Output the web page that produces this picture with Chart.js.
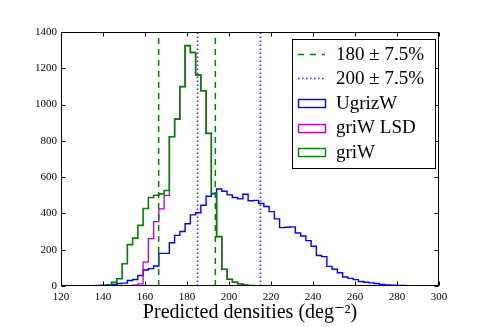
<!DOCTYPE html>
<html><head><meta charset="utf-8">
<script src="https://cdn.jsdelivr.net/npm/chart.js@4.4.0/dist/chart.umd.min.js"></script>
<style>html,body{margin:0;padding:0;background:#fff;}#wrap{width:491px;height:327px;}</style>
</head><body><div id="wrap"><canvas id="c" width="491" height="327"></canvas></div>
<script>
const binEdges = [131.6,134.1,136.6,139.1,141.6,144.1,146.6,149.1,151.6,154.1,156.6,159.1,161.6,164.1,166.6,169.1,171.6,174.1,176.6,179.1,181.6,184.1,186.6,189.1,191.6,194.1,196.6,199.1,201.6,204.1,206.6,209.1,211.6,214.1,216.6,219.1,221.6,224.1,226.6,229.1,231.6,234.1,236.6,239.1,241.6,244.1,246.6,249.1,251.6,254.1,256.6,259.1,261.6,264.1,266.6,269.1,271.6,274.1,276.6,279.1,281.6,284.1,286.6,289.1,291.6];
const countsUgrizW = [1,2,3,4,6,8,14,16,30,36,58,88,96,110,180,180,238,279,300,343,392,404,445,495,508,535,522,502,488,480,506,470,472,455,438,410,370,322,324,326,292,276,250,219,168,162,108,92,73,50,42,35,25,21,17,14,8,6,5,3,3,2,1,1];
const countsGriWLSD = [0,0,0,0,0,0,0,0,1,4,12,132,261,355,425,500,823,920,1099,1325,1287,1163,1076,841,510,272,92,37,21,12,5,2,1,0,0,0,0,0,0,0,0,0,0,0,0,0,0,0,0,0,0,0,0,0,0,0,0,0,0,0,0,0,0,0];
const countsGriW = [0,0,0,0,4,21,40,123,228,264,334,427,488,500,508,526,823,920,1099,1325,1287,1163,1076,841,510,272,92,37,21,12,5,2,1,0,0,0,0,0,0,0,0,0,0,0,0,0,0,0,0,0,0,0,0,0,0,0,0,0,0,0,0,0,0,0];
const xTicks = [120,140,160,180,200,220,240,260,280,300];
const yTicks = [0,200,400,600,800,1000,1200,1400];
const refLines180 = [166.5, 193.5];
const refLines200 = [185, 215];
const legendLabels = ['180 \u00b1 7.5%', '200 \u00b1 7.5%', 'UgrizW', 'griW LSD', 'griW'];

const BLUE = '#0000ff', GREEN = '#008000', MAG = '#bf00bf';
const SERIF = '"Liberation Serif", "DejaVu Serif", serif';

function stepPoints(counts) {
  const first = counts.findIndex(v => v > 0);
  let last = counts.length - 1;
  while (last >= 0 && counts[last] === 0) last--;
  const pts = [{x: binEdges[first], y: 0}];
  for (let i = first; i <= last; i++) pts.push({x: binEdges[i], y: counts[i]});
  pts.push({x: binEdges[last + 1], y: 0});
  return pts;
}
function vline(x) { return [{x: x, y: 0}, {x: x, y: 1400}]; }

const datasets = [];
refLines180.forEach(v => datasets.push({data: vline(v), borderColor: GREEN, borderWidth: 1.5, borderDash: [6, 5], pointRadius: 0}));
refLines200.forEach(v => datasets.push({data: vline(v), borderColor: '#2a2aff', borderWidth: 1.6, borderDash: [1.5, 2.5], pointRadius: 0}));
datasets.push({data: stepPoints(countsGriW), borderColor: GREEN, borderWidth: 1.6, stepped: true, pointRadius: 0});
datasets.push({data: stepPoints(countsGriWLSD), borderColor: MAG, borderWidth: 1.3, stepped: true, pointRadius: 0});
datasets.push({data: stepPoints(countsUgrizW), borderColor: BLUE, borderWidth: 1.4, stepped: true, pointRadius: 0});

const framePlugin = {
  id: 'frame',
  afterDatasetsDraw(chart) {
    const {ctx, chartArea: a, scales: {x, y}} = chart;
    ctx.save();
    ctx.strokeStyle = '#000';
    ctx.lineWidth = 1;
    const L = Math.round(a.left) + 0.5, R = Math.round(a.right) - 0.5;
    const T = Math.round(a.top) + 0.5, B = Math.round(a.bottom) - 0.5;
    ctx.beginPath();
    xTicks.forEach(v => {
      const px = Math.round(x.getPixelForValue(v)) + 0.5;
      ctx.moveTo(px, B); ctx.lineTo(px, B - 4);
      ctx.moveTo(px, T); ctx.lineTo(px, T + 4);
    });
    yTicks.forEach(v => {
      const py = Math.round(y.getPixelForValue(v)) + 0.5;
      ctx.moveTo(L, py); ctx.lineTo(L + 4, py);
      ctx.moveTo(R, py); ctx.lineTo(R - 4, py);
    });
    ctx.stroke();
    ctx.strokeRect(L, T, R - L, B - T);

    // legend
    const lx = 292.5, ly = 39.5, lw = 143, lh = 129;
    ctx.fillStyle = '#fff';
    ctx.fillRect(lx, ly, lw, lh);
    ctx.strokeRect(lx, ly, lw, lh);
    const rows = [54.5, 78.5, 103, 127.5, 152];
    const hx0 = 298, hx1 = 325;
    ctx.font = '19px ' + SERIF;
    ctx.textBaseline = 'middle';
    ctx.fillStyle = '#000';
    ctx.lineWidth = 1.5; ctx.strokeStyle = GREEN; ctx.setLineDash([6, 6]);
    ctx.beginPath(); ctx.moveTo(hx0, rows[0]); ctx.lineTo(hx1, rows[0]); ctx.stroke();
    ctx.lineWidth = 1.6; ctx.strokeStyle = '#2a2aff'; ctx.setLineDash([1.5, 2.5]);
    ctx.beginPath(); ctx.moveTo(hx0, rows[1]); ctx.lineTo(hx1, rows[1]); ctx.stroke();
    ctx.setLineDash([]);
    [BLUE, MAG, GREEN].forEach((c, i) => {
      ctx.strokeStyle = c; ctx.lineWidth = 1.4;
      ctx.strokeRect(hx0 + 0.5, Math.round(rows[i + 2] - 4) + 0.5, hx1 - hx0, 8);
    });
    legendLabels.forEach((t, i) => { ctx.fillText(t, 336, rows[i] + 1); });
    ctx.restore();
  }
};

new Chart(document.getElementById('c'), {
  type: 'line',
  data: {datasets},
  options: {
    responsive: false, animation: false, devicePixelRatio: 1,
    plugins: {legend: {display: false}, tooltip: {enabled: false}},
    elements: {line: {tension: 0, fill: false}},
    layout: {padding: {left: 0, top: 32, right: 52, bottom: 0}},
    scales: {
      x: {
        type: 'linear', min: 120, max: 300,
        afterBuildTicks: s => { s.ticks = xTicks.map(v => ({value: v})); },
        afterFit: s => { s.height = 41; },
        ticks: {color: '#000', font: {family: SERIF, size: 11}, padding: 5, maxRotation: 0, autoSkip: false, callback: v => String(v)},
        grid: {display: false, drawTicks: false},
        border: {display: false},
        title: {display: true, text: 'Predicted densities (deg\u207b\u00b2)', color: '#000', font: {family: SERIF, size: 20}, padding: {top: 0, bottom: 2}}
      },
      y: {
        type: 'linear', min: 0, max: 1400,
        afterBuildTicks: s => { s.ticks = yTicks.map(v => ({value: v})); },
        afterFit: s => { s.width = 61; },
        ticks: {color: '#000', font: {family: SERIF, size: 11}, padding: 4, autoSkip: false, callback: v => String(v)},
        grid: {display: false, drawTicks: false},
        border: {display: false}
      }
    }
  },
  plugins: [framePlugin]
});
</script></body></html>
